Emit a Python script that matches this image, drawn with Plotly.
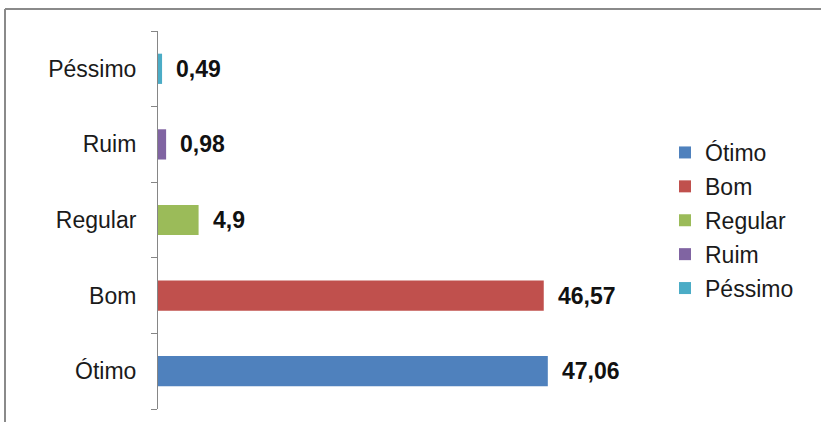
import plotly.graph_objects as go

categories = ["Ótimo", "Bom", "Regular", "Ruim", "Péssimo"]
values = [47.06, 46.57, 4.9, 0.98, 0.49]
value_labels = ["47,06", "46,57", "4,9", "0,98", "0,49"]
colors = ["#4F81BD", "#C0504D", "#9BBB59", "#8064A2", "#4BACC6"]

W, H = 821, 422
L, R, T, B = 158, 166, 31, 13
pw, ph = W - L - R, H - T - B

fig = go.Figure()
for cat, val, col in zip(categories, values, colors):
    fig.add_trace(go.Bar(
        y=[cat], x=[val], name=cat, orientation="h",
        marker=dict(color=col, line=dict(width=0)),
        width=0.4, legendgroup=cat,
    ))

# bold value labels to the right of each bar
for cat, val, lab in zip(categories, values, value_labels):
    fig.add_annotation(
        x=val, y=cat, text=f"<b>{lab}</b>", showarrow=False,
        xanchor="left", yanchor="middle", xshift=12,
        font=dict(family="Liberation Sans, Arial", size=23, color="#111111"),
    )

# outer chart frame
fig.add_shape(type="line", xref="paper", yref="paper",
              x0=(5 - L) / pw, x1=(W + 10 - L) / pw,
              y0=(H - B - 9) / ph, y1=(H - B - 9) / ph,
              line=dict(color="#8a8a8a", width=2))
fig.add_shape(type="line", xref="paper", yref="paper",
              x0=(5 - L) / pw, x1=(5 - L) / pw,
              y0=(H - B - 9) / ph, y1=-0.2,
              line=dict(color="#8a8a8a", width=2))

fig.update_layout(
    width=W, height=H,
    margin=dict(l=L, r=R, t=T, b=B),
    paper_bgcolor="white", plot_bgcolor="white",
    barmode="overlay",
    font=dict(family="Liberation Sans, Arial", size=23, color="#1a1a1a"),
    showlegend=True,
    legend=dict(
        x=(665 - L) / pw, xanchor="left",
        y=(H - B - 131) / ph, yanchor="top",
        font=dict(size=23, color="#1a1a1a"),
        tracegroupgap=1, itemwidth=30,
        bgcolor="rgba(0,0,0,0)",
    ),
    xaxis=dict(range=[0, 60], showgrid=False, zeroline=False,
               showline=False, showticklabels=False, ticks=""),
    yaxis=dict(type="category", categoryorder="array", categoryarray=categories,
               showline=True, linecolor="#868686", linewidth=1,
               ticks="outside", tickson="boundaries", ticklen=6, tickcolor="#868686",
               showgrid=False, ticklabelstandoff=16),
)

fig.write_html("out.html")
